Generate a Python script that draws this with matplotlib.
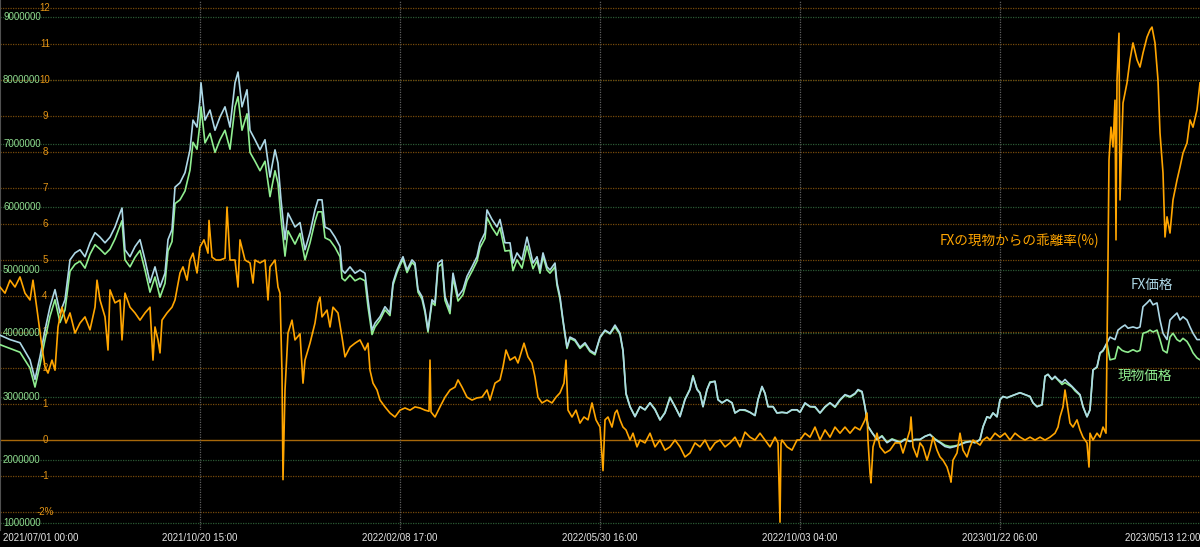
import numpy as np
import matplotlib.pyplot as plt
from matplotlib.transforms import blended_transform_factory

# --- データ (x は表示上の足番号 0..1200, 価格は百万円, 乖離率は%) ---
price_x = [0, 10, 20, 30, 35, 40, 45, 50, 55, 60, 65, 70, 75, 80, 85, 90, 95, 100, 105, 110,
           115, 120, 122, 125, 130, 135, 140, 145, 150, 155, 160, 165, 168, 172, 175, 180, 185, 190, 193, 197,
           200, 201, 205, 210, 215, 220, 225, 230, 235, 238, 242, 247, 250, 255, 260, 265, 270, 275, 278, 281,
           285, 288, 295,
           300, 305, 310, 315, 318, 322, 325, 330, 335, 340, 342, 345, 350, 355, 360, 365, 368, 372, 375, 380,
           385, 390, 393, 397, 400, 403, 407, 412, 415, 418, 422, 425, 428, 432, 435, 438, 442, 445, 450, 453,
           458, 463, 467, 472, 477, 480, 485, 487, 492, 497, 500, 505, 510, 513, 517, 522, 527, 530, 533, 537,
           540, 543, 547, 550, 555, 557, 560, 563, 567, 570, 575, 580, 585, 590, 595,
           600, 605, 610, 615, 620, 623, 626, 630, 635, 640, 645, 650, 655, 660, 665, 670, 675, 680, 685, 690,
           693, 697, 700, 703, 707, 710, 715, 718, 722, 727, 732, 735, 740, 745, 750, 755, 758, 762, 765, 768,
           773, 777, 782, 787, 792, 797, 800, 805, 810, 815, 820, 825, 830, 835, 840, 845, 850, 855, 858, 862,
           865, 868, 872, 877, 882, 887, 892, 897,
           900, 905, 910, 915, 920, 925, 930, 935, 940, 945, 950, 955, 960, 965, 970, 975, 980, 983, 987, 990,
           993, 997, 1000, 1003, 1007, 1010, 1015, 1020, 1025, 1030, 1033, 1037, 1042, 1045, 1048, 1052, 1055,
           1058, 1062, 1065, 1068, 1072, 1075, 1080, 1083, 1087, 1090, 1093, 1097, 1100, 1103, 1107, 1110, 1115,
           1118, 1122, 1125, 1128, 1133, 1137, 1140, 1143, 1147, 1150, 1153, 1157, 1160, 1163, 1167, 1170, 1173,
           1177, 1180, 1183, 1187, 1190, 1193, 1197, 1200]

fx_price = [3.97, 3.90, 3.85, 3.58, 3.27, 3.63, 4.05, 4.42, 4.69, 4.32, 4.53, 5.16, 5.27, 5.32, 5.21, 5.43, 5.59, 5.52, 5.43, 5.52,
            5.68, 5.90, 5.98, 5.32, 5.21, 5.37, 5.48, 5.16, 4.80, 5.05, 4.73, 4.95, 5.48, 5.64, 6.31, 6.38, 6.54, 6.90, 7.37, 7.26,
            7.69, 7.96, 7.37, 7.53, 7.21, 7.42, 7.58, 7.26, 7.96, 8.13, 7.58, 7.85, 7.21, 7.06, 6.90, 7.06, 6.47, 6.90, 6.69, 6.11,
            5.48, 5.90, 5.68,
            5.75, 5.32, 5.59, 5.95, 6.11, 6.11, 5.68, 5.64, 5.52, 5.37, 5.00, 4.95, 5.05, 4.95, 5.00, 4.95, 4.53, 4.05, 4.16, 4.26,
            4.42, 4.32, 4.80, 5.00, 5.11, 5.21, 5.00, 5.16, 5.11, 4.69, 4.58, 4.37, 4.05, 4.53, 4.48, 5.11, 5.16, 4.58, 4.37, 4.95,
            4.58, 4.69, 4.90, 5.05, 5.21, 5.43, 5.59, 5.95, 5.80, 5.68, 5.80, 5.43, 5.43, 5.11, 5.27, 5.16, 5.52, 5.32, 5.11, 5.21,
            5.00, 5.27, 5.05, 5.00, 5.11, 4.80, 4.58, 4.21, 3.78, 3.94, 3.90, 3.78, 3.85, 3.73, 3.68,
            3.94, 4.05, 4.00, 4.13, 4.00, 3.73, 3.05, 2.84, 2.68, 2.84, 2.79, 2.90, 2.79, 2.63, 2.74, 2.98, 2.84, 2.68, 2.95, 3.11,
            3.32, 3.11, 3.05, 2.84, 3.11, 3.22, 3.24, 2.95, 2.90, 2.95, 2.90, 2.74, 2.79, 2.79, 2.75, 2.70, 2.95, 3.16, 3.05, 2.84,
            2.84, 2.74, 2.75, 2.74, 2.79, 2.79, 2.75, 2.90, 2.84, 2.84, 2.74, 2.84, 2.90, 2.84, 2.95, 3.03, 3.00, 3.05, 3.11, 3.08,
            2.84, 2.53, 2.43, 2.32, 2.37, 2.27, 2.32, 2.29,
            2.27, 2.32, 2.29, 2.32, 2.32, 2.37, 2.40, 2.32, 2.27, 2.21, 2.19, 2.21, 2.24, 2.27, 2.29, 2.27, 2.32, 2.52, 2.68, 2.66,
            2.74, 2.68, 2.95, 3.00, 2.98, 3.00, 3.03, 3.06, 3.03, 3.00, 2.90, 2.84, 2.87, 3.32, 3.35, 3.27, 3.32,
            3.27, 3.22, 3.27, 3.22, 3.16, 3.11, 3.03, 2.84, 2.68, 2.79, 3.42, 3.47, 3.69, 3.73, 3.85, 3.94, 3.90,
            4.05, 4.10, 4.13, 4.08, 4.10, 4.08, 4.10, 4.42, 4.48, 4.53, 4.45, 4.48, 4.21, 4.00, 3.90, 4.21, 4.26,
            4.32, 4.21, 4.26, 4.21, 4.10, 4.00, 3.90, 3.90]

spot_price = [3.82, 3.76, 3.70, 3.45, 3.15, 3.50, 3.90, 4.27, 4.53, 4.17, 4.37, 4.98, 5.09, 5.14, 5.03, 5.25, 5.40, 5.33, 5.25, 5.33,
              5.49, 5.70, 5.78, 5.16, 5.05, 5.20, 5.31, 5.00, 4.65, 4.89, 4.57, 4.79, 5.30, 5.45, 6.05, 6.11, 6.25, 6.58, 7.02, 6.91,
              7.32, 7.58, 7.01, 7.16, 6.86, 7.06, 7.21, 6.91, 7.58, 7.74, 7.21, 7.47, 6.86, 6.72, 6.57, 6.72, 6.16, 6.57, 6.37, 5.82,
              5.22, 5.62, 5.41,
              5.58, 5.16, 5.43, 5.77, 5.92, 5.92, 5.51, 5.47, 5.36, 5.21, 4.87, 4.83, 4.92, 4.83, 4.87, 4.83, 4.42, 3.98, 4.10, 4.21,
              4.37, 4.28, 4.76, 4.96, 5.07, 5.17, 4.96, 5.12, 5.07, 4.65, 4.54, 4.33, 4.02, 4.49, 4.44, 5.05, 5.10, 4.52, 4.31, 4.88,
              4.51, 4.61, 4.83, 4.98, 5.14, 5.35, 5.50, 5.83, 5.67, 5.55, 5.67, 5.30, 5.31, 4.99, 5.16, 5.03, 5.38, 5.20, 5.02, 5.15,
              4.95, 5.22, 5.00, 4.95, 5.05, 4.76, 4.54, 4.19, 3.76, 3.92, 3.88, 3.76, 3.83, 3.71, 3.66,
              3.93, 4.04, 3.99, 4.10, 3.98, 3.72, 3.04, 2.84, 2.69, 2.84, 2.79, 2.90, 2.80, 2.63, 2.75, 2.99, 2.84, 2.69, 2.96, 3.12,
              3.33, 3.12, 3.06, 2.84, 3.11, 3.23, 3.24, 2.95, 2.90, 2.95, 2.90, 2.74, 2.79, 2.78, 2.75, 2.70, 2.95, 3.15, 3.05, 2.84,
              2.84, 2.74, 2.75, 2.74, 2.79, 2.79, 2.75, 2.89, 2.84, 2.83, 2.74, 2.83, 2.90, 2.83, 2.94, 3.02, 2.99, 3.04, 3.10, 3.07,
              2.83, 2.53, 2.43, 2.32, 2.38, 2.28, 2.33, 2.30,
              2.28, 2.33, 2.29, 2.32, 2.32, 2.37, 2.40, 2.33, 2.28, 2.23, 2.21, 2.22, 2.24, 2.28, 2.29, 2.27, 2.32, 2.52, 2.68, 2.66,
              2.74, 2.68, 2.95, 3.00, 2.98, 3.00, 3.03, 3.06, 3.03, 3.00, 2.90, 2.84, 2.87, 3.32, 3.35, 3.27, 3.31,
              3.26, 3.19, 3.22, 3.19, 3.15, 3.09, 3.02, 2.84, 2.68, 2.79, 3.42, 3.46, 3.68, 3.72, 3.84, 3.58, 3.60,
              3.79, 3.73, 3.71, 3.70, 3.74, 3.71, 3.73, 4.00, 4.02, 4.05, 4.02, 4.05, 3.90, 3.73, 3.69, 3.94, 4.00,
              3.90, 3.87, 3.92, 3.87, 3.79, 3.69, 3.61, 3.58]

dev_x = [0, 5, 10, 15, 20, 25, 30, 33, 38, 42, 45, 48, 52, 55, 58, 62, 66, 70, 75, 80,
         85, 90, 95, 97, 100, 105, 108, 110, 115, 120, 122, 125, 130, 135, 140, 145, 150, 153, 155, 158,
         160, 162, 167, 172, 175, 180, 183, 187, 190, 193, 197, 200, 204, 208, 209, 212, 216, 220, 225, 227,
         230, 235, 238, 240, 245, 250, 253, 255, 260, 265, 268, 270, 275, 278, 280, 282, 283, 285, 288, 292,
         295,
         300, 303, 305, 310, 315, 318, 320, 322, 327, 330, 333, 338, 342, 345, 350, 355, 360, 365, 368, 370,
         373, 377, 380, 385, 390, 395, 400, 405, 410, 415, 420, 425, 429, 430, 431, 435, 440, 445, 450, 455,
         458, 462, 467, 472, 477, 482, 487, 490, 495, 500, 503, 506, 510, 515, 518, 522, 524, 528, 532, 535,
         538, 542, 547, 552, 556, 560, 564, 566, 568, 572, 576, 580, 584, 588, 592, 596,
         600, 603, 605, 608, 612, 615, 617, 620, 623, 626, 630, 633, 637, 640, 645, 650, 655, 660, 665, 670,
         675, 680, 685, 690, 695, 700, 705, 710, 715, 720, 725, 730, 735, 740, 745, 750, 755, 760, 765, 770,
         775, 778, 780, 781, 782, 787, 792, 797, 800, 805, 810, 815, 820, 825, 830, 835, 840, 845, 850, 855,
         860, 865, 867, 868, 870, 871, 873, 877, 880, 885, 890, 895,
         900, 903, 907, 910, 911, 913, 917, 920, 923, 927, 930, 933, 937, 940, 943, 947, 950, 951, 953, 957,
         960, 963, 967, 970, 973, 977, 980, 983, 987, 990, 995, 1000, 1005, 1010, 1015, 1020, 1025, 1030, 1035, 1040,
         1045, 1050, 1055, 1058, 1060, 1063, 1065, 1068, 1070, 1073, 1077, 1080, 1083, 1087, 1089, 1090, 1093, 1097, 1100, 1103,
         1106, 1108, 1109, 1111, 1113, 1115, 1116, 1117, 1119, 1120, 1123, 1127, 1130, 1133, 1137, 1140, 1143, 1147, 1150, 1152,
         1155, 1158, 1160, 1163, 1165, 1167, 1170, 1173, 1177, 1180, 1183, 1187, 1190, 1193, 1197, 1200]

deviation = [4.25, 4.08, 4.44, 4.25, 4.53, 4.08, 3.89, 4.44, 3.42, 2.58, 2.03, 1.86, 2.22, 1.94, 3.14, 3.69, 3.25, 3.53, 2.97, 3.25,
             3.42, 3.06, 3.69, 4.44, 3.89, 3.42, 2.50, 4.17, 3.81, 3.89, 2.78, 4.08, 3.69, 3.53, 3.33, 3.53, 3.69, 2.22, 3.14, 2.78,
             2.42, 3.33, 3.53, 3.69, 3.89, 4.64, 4.81, 4.44, 5.00, 5.19, 4.64, 5.36, 5.56, 5.19, 6.10, 5.08, 5.00, 5.00, 5.05, 6.47,
             5.00, 5.00, 4.25, 5.56, 5.00, 4.92, 4.36, 5.00, 4.92, 5.00, 3.89, 4.81, 5.00, 4.25, 4.08, 1.86, -1.10, 1.39, 2.97, 3.33,
             2.78,
             2.95, 1.58, 2.22, 2.69, 3.25, 3.81, 3.97, 3.42, 3.61, 3.14, 3.69, 3.53, 2.86, 2.31, 2.58, 2.69, 2.78, 2.50, 2.69, 1.94,
             1.58, 1.39, 1.11, 0.92, 0.75, 0.64, 0.83, 0.89, 0.83, 0.92, 0.89, 0.83, 0.80, 2.22, 0.78, 0.64, 0.92, 1.19, 1.39, 1.47,
             1.67, 1.47, 1.19, 1.11, 1.17, 1.19, 1.39, 1.11, 1.58, 1.67, 2.03, 2.50, 2.22, 2.31, 2.14, 2.50, 2.69, 2.31, 2.14, 1.75,
             1.19, 1.03, 1.11, 1.03, 1.19, 1.31, 1.58, 2.22, 0.83, 0.64, 0.83, 0.47, 0.64, 0.56, 1.03, 0.56,
             0.36, -0.85, 0.56, 0.64, 0.36, 0.75, 0.83, 0.56, 0.36, 0.28, 0.00, 0.19, -0.19, 0.00, -0.08, 0.19, -0.19, 0.00, -0.28, -0.19,
             0.00, -0.19, -0.47, -0.36, -0.08, -0.19, 0.00, -0.28, -0.08, 0.00, -0.19, -0.08, 0.08, -0.19, 0.22, 0.08, 0.00, 0.19, 0.00, -0.19,
             0.08, -0.08, -2.28, -0.10, 0.00, -0.19, -0.28, 0.00, 0.00, 0.19, 0.08, 0.36, 0.00, 0.28, 0.08, 0.36, 0.19, 0.36, 0.19, 0.36,
             0.28, 0.56, 0.75, 0.00, -0.92, -1.19, -0.19, 0.19, -0.19, -0.36, -0.28, -0.08,
             -0.08, -0.36, 0.00, 0.28, 0.64, -0.19, -0.47, -0.08, -0.19, -0.56, -0.28, 0.08, -0.28, -0.47, -0.56, -0.75, -1.03, -1.17, -0.56, -0.36,
             0.19, -0.28, -0.47, -0.19, 0.00, -0.08, -0.14, 0.00, 0.08, 0.00, 0.19, 0.08, 0.19, 0.00, 0.19, 0.08, 0.00, 0.08, 0.00, 0.08,
             0.00, 0.08, 0.19, 0.36, 0.64, 0.92, 1.39, 0.83, 0.47, 0.36, 0.56, 0.28, 0.08, -0.08, -0.75, 0.19, 0.00, 0.19, 0.08, 0.36,
             0.19, 5.00, 7.78, 8.69, 8.14, 9.44, 5.56, 10.00, 11.30, 6.67, 9.36, 9.92, 10.56, 11.03, 10.56, 10.36, 10.75, 11.19, 11.39, 11.47,
             11.03, 10.00, 8.53, 7.42, 5.64, 6.20, 5.75, 6.67, 7.22, 7.58, 7.97, 8.25, 8.89, 8.69, 9.17, 9.92]

price_ticks = [1, 2, 3, 4, 5, 6, 7, 8, 9]
pct_ticks = [-2, -1, 0, 1, 2, 3, 4, 5, 6, 7, 8, 9, 10, 11, 12]
pct_labels = ['-2%', '-1', '0', '1', '2', '3', '4', '5', '6', '7', '8', '9', '10', '11', '12']
date_pos = [0, 200, 400, 600, 800, 1000, 1200]
date_labels = ['2021/07/01 00:00', '2021/10/20 15:00', '2022/02/08 17:00', '2022/05/30 16:00',
               '2022/10/03 04:00', '2023/01/22 06:00', '2023/05/13 12:00']

# --- 描画 ---
fig = plt.figure(figsize=(12, 5.47), dpi=100, facecolor='black')
ax = fig.add_axes([0, 0.031, 1, 0.969])
ax.set_facecolor('black')
ax2 = ax.twinx()
ax.set_xlim(0, 1200)
ax.set_ylim(0.889, 9.269)
ax2.set_ylim(-2.5, 12.222)
for a in (ax, ax2):
    a.set_xticks([])
    a.set_yticks([])
    for s in a.spines.values():
        s.set_visible(False)
ax.spines['left'].set_visible(True)
ax.spines['left'].set_color('#505050')

pct_tr = blended_transform_factory(ax.transData, ax2.transData)
left_price = blended_transform_factory(ax.transAxes, ax.transData)
bottom_tr = blended_transform_factory(ax.transData, ax.transAxes)

# グリッド
for v in price_ticks:
    ax.axhline(v, color='#2b5a34', lw=0.9, ls=(0, (1, 1)), zorder=1)
for v in pct_ticks:
    if v == 0:
        ax.plot([0, 1200], [v, v], transform=pct_tr, color='#a8680a', lw=1.0, zorder=1)
    else:
        ax.plot([0, 1200], [v, v], transform=pct_tr, color='#774a0a', lw=0.9, ls=(0, (1, 1)), zorder=1)
for x in date_pos[1:-1]:
    ax.axvline(x, color='#5c5c5c', lw=0.9, ls=(0, (1, 1)), zorder=1)

# 目盛りラベル
tick_font = dict(family='Liberation Sans', fontsize=7)
for v in price_ticks:
    ax.text(0.0025, v, str(int(v * 1000000)), transform=left_price, ha='left', va='center',
            color='#8fdc8f', zorder=2, **tick_font)
for v, lab in zip(pct_ticks, pct_labels):
    ax.text(45, v, lab, transform=pct_tr, ha='center', va='center', color='#e39415', zorder=2, **tick_font)
for i, (x, lab) in enumerate(zip(date_pos, date_labels)):
    ha = 'left' if i == 0 else ('right' if i == len(date_pos) - 1 else 'center')
    ax.text(x + (3 if i == 0 else 0), -0.015, lab, transform=bottom_tr, ha=ha, va='center',
            color='#e6e6e6', clip_on=False, **tick_font)

# 系列
ax.plot(price_x, spot_price, color='#90ee90', lw=1.2, zorder=3)
ax.plot(price_x, fx_price, color='#add8e6', lw=1.2, zorder=4)
ax2.plot(dev_x, deviation, color='#ffa500', lw=1.2, zorder=3)

jp = ['Noto Sans CJK JP', 'DejaVu Sans']
ax.text(0.783, 0.545, 'FXの現物からの乖離率(%)', transform=ax.transAxes, ha='left', va='center',
        color='#ffa500', fontsize=9.8, family=jp)
ax.text(0.96, 0.462, 'FX価格', transform=ax.transAxes, ha='center', va='center',
        color='#add8e6', fontsize=9.8, family=jp)
ax.text(0.954, 0.291, '現物価格', transform=ax.transAxes, ha='center', va='center',
        color='#90ee90', fontsize=9.8, family=jp)

plt.savefig('out.png', dpi=100, facecolor='black')
